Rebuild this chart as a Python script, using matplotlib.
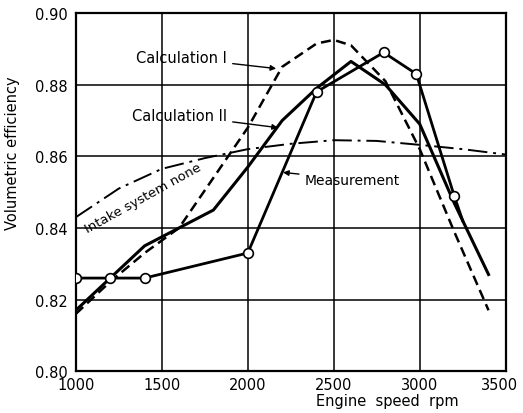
import matplotlib
matplotlib.use("Agg")
import matplotlib.pyplot as plt
import matplotlib.transforms as mtransforms

# engine speed (rpm) and volumetric efficiency
meas_rpm = [1000, 1200, 1400, 2000, 2400, 2790, 2980, 3200, 3250]
meas_eff = [0.826, 0.826, 0.826, 0.833, 0.878, 0.889, 0.883, 0.849, 0.842]

calc2_rpm = [1000, 1200, 1400, 1600, 1800, 2000, 2200, 2400, 2600, 2800, 3000, 3200, 3400]
calc2_eff = [0.817, 0.826, 0.835, 0.840, 0.845, 0.857, 0.870, 0.879, 0.8865, 0.880, 0.869, 0.847, 0.827]

calc1_rpm = [1000, 1200, 1400, 1600, 1800, 2000, 2200, 2400, 2500, 2600, 2800, 3000, 3200, 3400]
calc1_eff = [0.816, 0.825, 0.833, 0.840, 0.854, 0.868, 0.885, 0.8915, 0.8925, 0.891, 0.881, 0.862, 0.839, 0.817]

intake_rpm = [1000, 1250, 1500, 1750, 2000, 2250, 2500, 2750, 3000, 3250, 3500]
intake_eff = [0.843, 0.851, 0.8565, 0.8595, 0.862, 0.8635, 0.8645, 0.8643, 0.8632, 0.862, 0.8605]

x_ticks = [1000, 1500, 2000, 2500, 3000, 3500]
y_ticks = [0.80, 0.82, 0.84, 0.86, 0.88, 0.90]

plt.rcParams["font.family"] = ["DejaVu Sans"]

fig = plt.figure(figsize=(5.23, 4.14), dpi=100)
ax = fig.add_axes([0.145, 0.101, 0.822, 0.865])
ax.set_xlim(1000, 3500)
ax.set_ylim(0.80, 0.90)

for x in x_ticks[1:-1]:
    ax.axvline(x, color="black", lw=1.1, zorder=1)
for y in y_ticks[1:-1]:
    ax.axhline(y, color="black", lw=1.1, zorder=1)

ax.plot(intake_rpm, intake_eff, color="black", lw=1.4,
        dashes=(10, 3, 1.5, 3), zorder=2)
ax.plot(calc1_rpm, calc1_eff, color="black", lw=1.8, dashes=(4, 2.2), zorder=3)
ax.plot(calc2_rpm, calc2_eff, color="black", lw=2.2, zorder=3)
ax.plot(meas_rpm, meas_eff, color="black", lw=2.0, marker="o", ms=7,
        mfc="white", mec="black", mew=1.2, markevery=list(range(len(meas_rpm) - 1)),
        zorder=4)

arrow = dict(arrowstyle="-|>", color="black", lw=1.0, mutation_scale=8,
             shrinkA=2, shrinkB=0)
ax.annotate("Calculation I", xy=(2165, 0.8845), xytext=(1880, 0.8875),
            ha="right", va="center", fontsize=10.5, arrowprops=arrow)
ax.annotate("Calculation II", xy=(2175, 0.868), xytext=(1880, 0.8715),
            ha="right", va="center", fontsize=10.5, arrowprops=arrow)
ax.annotate("Measurement", xy=(2205, 0.8555), xytext=(2330, 0.8535),
            ha="left", va="center", fontsize=10, arrowprops=arrow)
ax.text(1390, 0.8485, "Intake system none", rotation=29, ha="center",
        va="center", fontsize=9.5, rotation_mode="anchor")

ax.set_xticks(x_ticks)
ax.set_xticklabels([str(v) for v in x_ticks])
ax.set_yticks(y_ticks)
ax.set_yticklabels(["%.2f" % v for v in y_ticks])
ax.tick_params(length=0, labelsize=10.5)
ax.tick_params(axis="x", pad=4)
ax.tick_params(axis="y", pad=6)
for s in ax.spines.values():
    s.set_linewidth(1.6)

# nudge the last x label inward so it stays inside the figure
last = ax.get_xticklabels()[-1]
last.set_transform(last.get_transform() +
                   mtransforms.ScaledTranslation(-6 / 100, 0, fig.dpi_scale_trans))

fig.text(387 / 523, 1 - 402 / 414, "Engine  speed  rpm", ha="center",
         va="center", fontsize=10.5)
fig.text(13 / 523, 1 - 153 / 414, "Volumetric efficiency", rotation=90,
         ha="center", va="center", fontsize=10.5)

fig.savefig("out.png", dpi=100)
